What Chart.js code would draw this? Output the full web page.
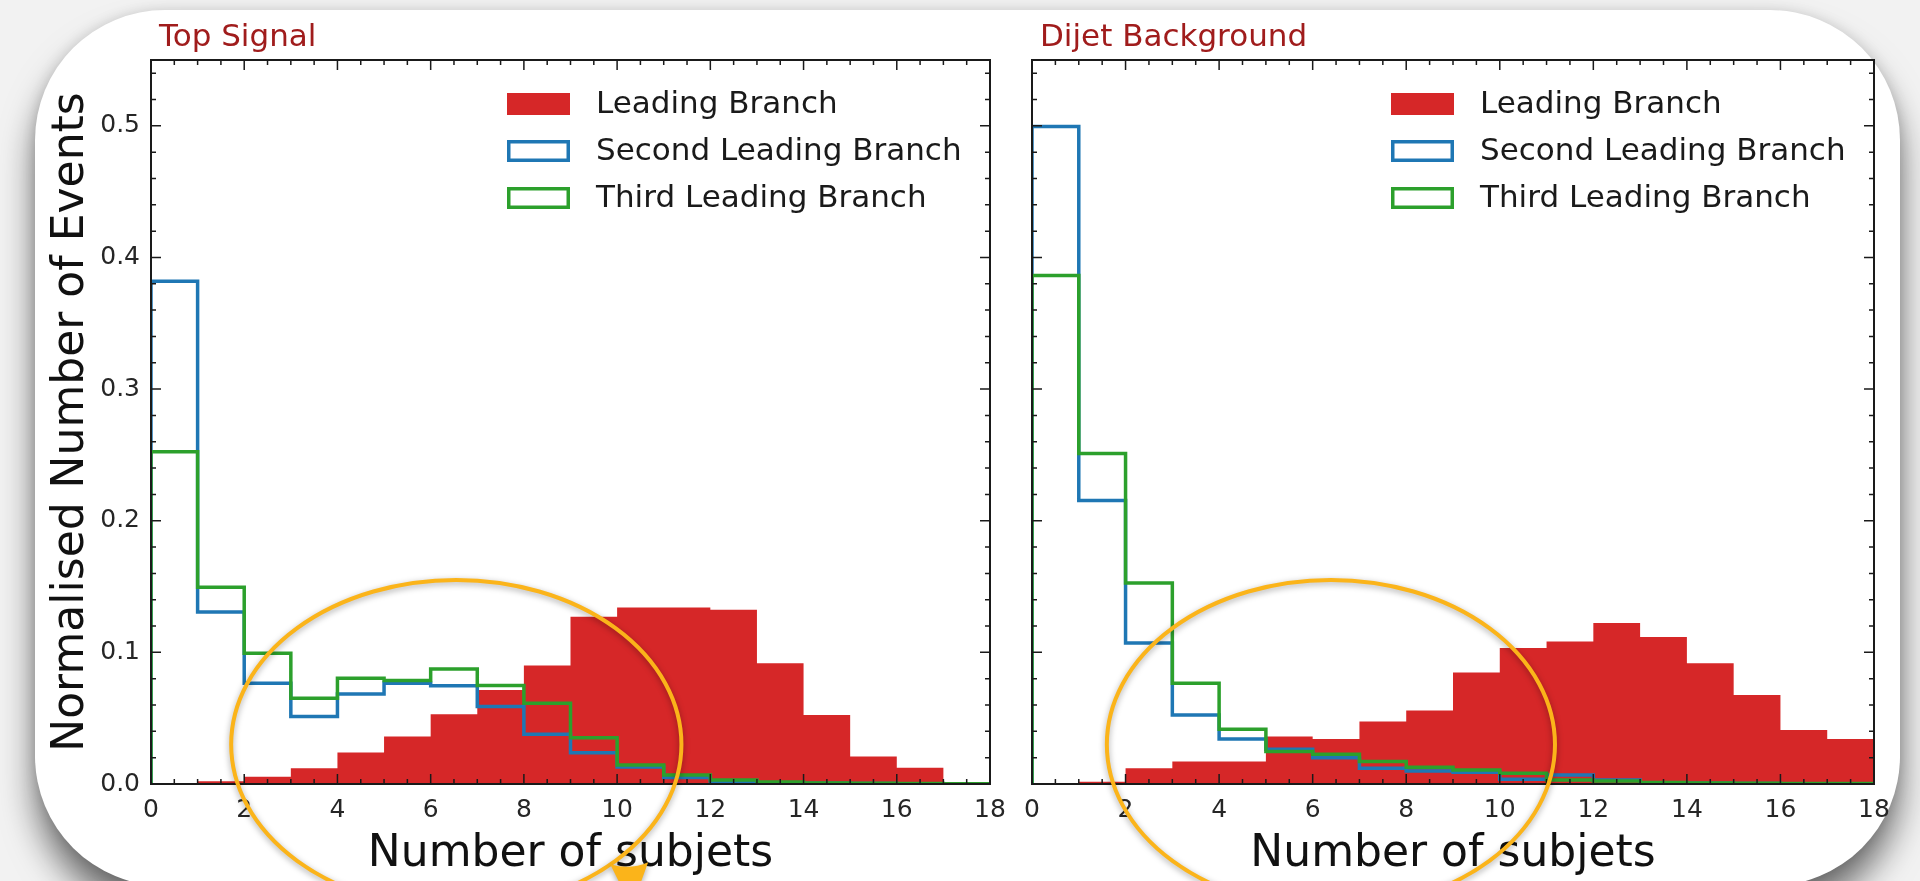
<!DOCTYPE html>
<html>
<head>
<meta charset="utf-8">
<script src="https://cdn.jsdelivr.net/npm/chart.js@4.4.1/dist/chart.umd.min.js"></script>
<style>
  html, body { margin: 0; padding: 0; }
  body { width: 1920px; height: 881px; overflow: hidden; background: #f2f2f2; position: relative; }
  #card { position: absolute; left: 35px; top: 10px; width: 1865px; height: 876px; background: #fff;
          border-radius: 130px; box-shadow: 0 26px 34px rgba(0,0,0,0.55), 0 0 14px rgba(0,0,0,0.12); }
  canvas { position: absolute; top: 0; }
  #signal { left: 0; }
  #dijet { left: 1000px; }
</style>
</head>
<body>
<div id="card"></div>
<canvas id="signal" width="1020" height="881"></canvas>
<canvas id="dijet" width="920" height="881"></canvas>
<script>
// histogram data, one value per unit bin from 0 to 18
const xTicks = [0, 2, 4, 6, 8, 10, 12, 14, 16, 18];
const yTicks = [0, 0.1, 0.2, 0.3, 0.4, 0.5];
const seriesNames = ['Leading Branch', 'Second Leading Branch', 'Third Leading Branch'];

const signalLeading = [0, 0.002, 0.0056, 0.012, 0.024, 0.036, 0.053, 0.0715, 0.090, 0.127, 0.134, 0.134, 0.1324, 0.0918, 0.0525, 0.0208, 0.0124, 0];
const signalSecond = [0.382, 0.1307, 0.0766, 0.0512, 0.0683, 0.0766, 0.0746, 0.0588, 0.0378, 0.0238, 0.013, 0.005, 0.002, 0.001, 0.0005, 0.0003, 0.0002, 0.0001];
const signalThird = [0.2524, 0.1494, 0.0994, 0.0652, 0.0804, 0.0786, 0.0873, 0.0748, 0.0614, 0.0352, 0.0145, 0.0068, 0.003, 0.0015, 0.0008, 0.0005, 0.0003, 0.0002];

const dijetLeading = [0, 0.0018, 0.0119, 0.017, 0.017, 0.036, 0.0342, 0.0474, 0.0558, 0.0847, 0.1033, 0.1083, 0.1223, 0.1116, 0.0918, 0.0677, 0.0411, 0.0342];
const dijetSecond = [0.4995, 0.2154, 0.1071, 0.0525, 0.0342, 0.0264, 0.020, 0.0119, 0.0099, 0.0089, 0.0036, 0.0068, 0.003, 0.001, 0.0005, 0.0003, 0.0002, 0.0001];
const dijetThird = [0.3863, 0.2511, 0.1527, 0.0766, 0.0416, 0.0246, 0.0226, 0.017, 0.0127, 0.0107, 0.0081, 0.003, 0.0023, 0.0012, 0.0008, 0.0005, 0.0004, 0.0003];

const RED = '#d62728', BLUE = '#1f77b4', GREEN = '#2ca02c', ORANGE = '#fbb41a';

Chart.defaults.font.family = "'DejaVu Sans', sans-serif";
Chart.defaults.color = '#262626';

// turn bin contents into a stepped outline (matplotlib histtype="step")
function stepPoints(values) {
    const pts = [{ x: 0, y: 0 }];
    values.forEach((v, i) => pts.push({ x: i, y: v }));
    pts.push({ x: values.length, y: values[values.length - 1] });
    pts.push({ x: values.length, y: 0 });
    return pts;
}

// inward ticks on all four sides + black frame
const frame = {
    id: 'frame',
    afterDatasetsDraw(chart) {
        const { ctx, chartArea: a, scales: { x, y } } = chart;
        ctx.save();
        ctx.strokeStyle = '#1a1a1a';
        ctx.lineWidth = 1.5;
        ctx.beginPath();
        for (let v = 0; v <= 18; v += 0.5) {
            const px = x.getPixelForValue(v);
            const len = xTicks.includes(v) ? 10 : 5;
            ctx.moveTo(px, a.bottom); ctx.lineTo(px, a.bottom - len);
            ctx.moveTo(px, a.top); ctx.lineTo(px, a.top + len);
        }
        for (let i = 0; i <= 27; i++) {
            const v = i * 0.02;
            const py = y.getPixelForValue(v);
            const len = i % 5 === 0 ? 10 : 5;
            ctx.moveTo(a.left, py); ctx.lineTo(a.left + len, py);
            ctx.moveTo(a.right, py); ctx.lineTo(a.right - len, py);
        }
        ctx.stroke();
        ctx.lineWidth = 2;
        ctx.strokeRect(a.left, a.top, a.right - a.left, a.bottom - a.top);
        ctx.restore();
    }
};

// title, legend in the upper right, and the orange highlight ellipse
const decor = {
    id: 'decor',
    afterDraw(chart, args, opts) {
        const { ctx, chartArea: a, scales: { x, y } } = chart;
        ctx.save();
        ctx.font = "31px 'DejaVu Sans', sans-serif";
        ctx.fillStyle = '#a01c1c';
        ctx.textBaseline = 'alphabetic';
        ctx.fillText(opts.title, a.left + 8, 46);

        const colors = [RED, BLUE, GREEN];
        const bx = a.right - 483, w = 63, h = 22;
        ctx.font = "31px 'DejaVu Sans', sans-serif";
        ctx.textBaseline = 'middle';
        seriesNames.forEach((name, i) => {
            const top = a.top + 33 + i * 47;
            if (i === 0) {
                ctx.fillStyle = colors[i];
                ctx.fillRect(bx, top, w, h);
            } else {
                ctx.strokeStyle = colors[i];
                ctx.lineWidth = 3.5;
                ctx.strokeRect(bx + 1.75, top + 1.75, w - 3.5, h - 3.5);
            }
            ctx.fillStyle = '#1a1a1a';
            ctx.fillText(name, bx + 89, top + h / 2 + 1);
        });

        const e = opts.ellipse;
        const cx = x.getPixelForValue(e.x), cy = y.getPixelForValue(e.y);
        const rx = x.getPixelForValue(e.x + e.rx) - cx;
        const ry = cy - y.getPixelForValue(e.y + e.ry);
        ctx.shadowColor = 'rgba(0,0,0,0.35)';
        ctx.shadowBlur = 6;
        ctx.shadowOffsetY = 2;
        ctx.strokeStyle = ORANGE;
        ctx.lineWidth = 4;
        ctx.beginPath();
        ctx.ellipse(cx, cy, rx, ry, 0, 0, Math.PI * 2);
        ctx.stroke();

        if (opts.marker) {
            const mx = x.getPixelForValue(opts.marker.x), my = y.getPixelForValue(opts.marker.y);
            ctx.fillStyle = ORANGE;
            ctx.beginPath();
            ctx.moveTo(mx - 20, my - 8);
            ctx.quadraticCurveTo(mx, my - 2, mx + 18, my - 10);
            ctx.lineTo(mx + 10, my + 12);
            ctx.lineTo(mx - 10, my + 12);
            ctx.closePath();
            ctx.fill();
        }
        ctx.restore();
    }
};

function buildChart(id, title, leading, second, third, isLeft, ellipse, marker) {
    return new Chart(document.getElementById(id), {
        type: 'line',
        data: {
            datasets: [
                { label: seriesNames[0], data: stepPoints(leading), stepped: 'before', borderWidth: 0,
                  borderColor: RED, backgroundColor: RED, fill: 'origin', pointRadius: 0, order: 3 },
                { label: seriesNames[1], data: stepPoints(second), stepped: 'before', borderWidth: 3.5,
                  borderColor: BLUE, fill: false, pointRadius: 0, order: 2 },
                { label: seriesNames[2], data: stepPoints(third), stepped: 'before', borderWidth: 3.5,
                  borderColor: GREEN, fill: false, pointRadius: 0, order: 1 }
            ]
        },
        options: {
            responsive: false,
            animation: false,
            devicePixelRatio: 1,
            layout: { padding: isLeft ? { left: 0, right: 30, top: 60, bottom: 0 } : { left: 32, right: 46, top: 60, bottom: 0 } },
            plugins: {
                legend: { display: false },
                tooltip: { enabled: false },
                decor: { title: title, ellipse: ellipse, marker: marker }
            },
            scales: {
                x: {
                    type: 'linear', min: 0, max: 18,
                    afterBuildTicks: s => { s.ticks = xTicks.map(v => ({ value: v })); },
                    afterFit: s => { s.height = 97; },
                    grid: { display: false, drawTicks: false },
                    border: { display: false },
                    ticks: { font: { size: 25 }, padding: 11, maxRotation: 0, autoSkip: false },
                    title: { display: true, text: 'Number of subjets', color: '#111',
                             font: { size: 44 }, padding: { top: 0, bottom: 0 } }
                },
                y: {
                    type: 'linear', min: 0, max: 0.55,
                    afterBuildTicks: s => { s.ticks = yTicks.map(v => ({ value: v })); },
                    afterFit: s => { s.width = isLeft ? 151 : 0; },
                    grid: { display: false, drawTicks: false },
                    border: { display: false },
                    ticks: { display: isLeft, font: { size: 25 }, padding: 11, callback: v => v.toFixed(1) },
                    title: { display: isLeft, text: 'Normalised Number of Events', color: '#111',
                             font: { size: 44 }, padding: { top: 45, bottom: 0 } }
                }
            }
        },
        plugins: [frame, decor]
    });
}

buildChart('signal', 'Top Signal', signalLeading, signalSecond, signalThird, true,
    { x: 6.55, y: 0.03, rx: 4.83, ry: 0.125 }, { x: 10.28, y: -0.067 });
buildChart('dijet', 'Dijet Background', dijetLeading, dijetSecond, dijetThird, false,
    { x: 6.39, y: 0.03, rx: 4.79, ry: 0.125 }, null);
</script>
</body>
</html>
